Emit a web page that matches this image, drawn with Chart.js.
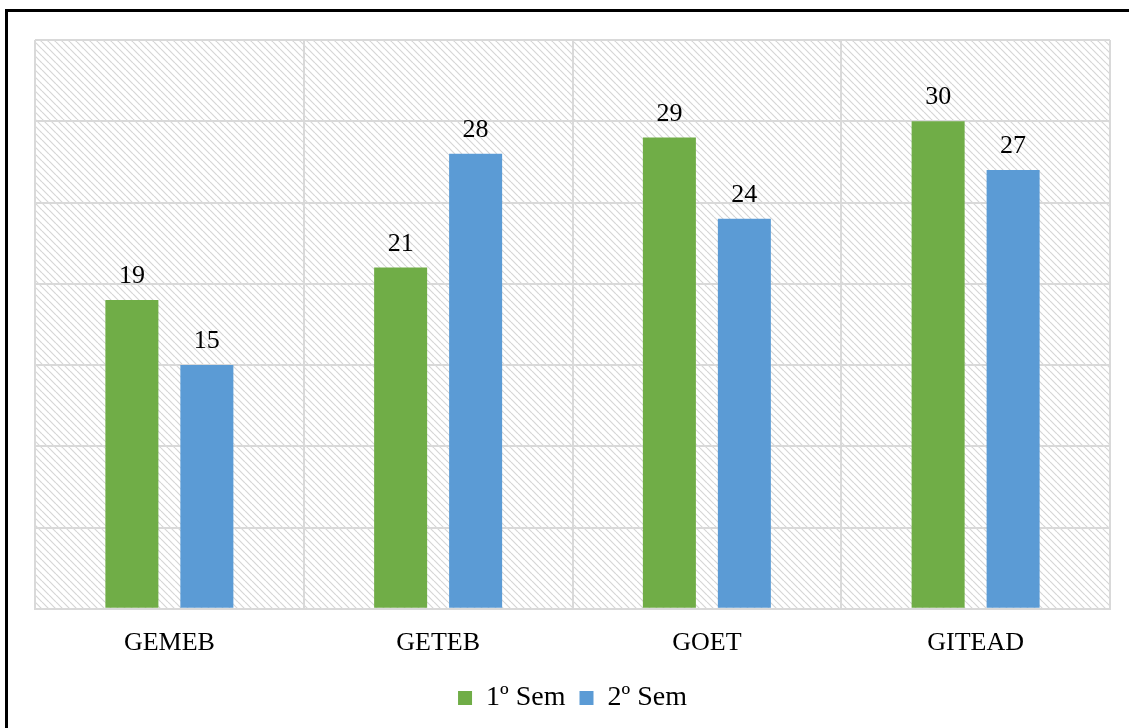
<!DOCTYPE html>
<html>
<head>
<meta charset="utf-8">
<script src="https://cdn.jsdelivr.net/npm/chart.js@4"></script>
<style>
html,body{margin:0;padding:0;background:#fff;overflow:hidden;}
#frame{position:absolute;left:5px;top:9px;width:1200px;height:800px;border-top:3px solid #000;border-left:3px solid #000;}
#wrap{position:absolute;left:0;top:0;width:1129px;height:728px;}
</style>
</head>
<body>
<div id="frame"></div>
<div id="wrap"><canvas id="c" width="1129" height="728"></canvas></div>
<script>
const categories = ["GEMEB", "GETEB", "GOET", "GITEAD"];
const sem1 = [19, 21, 29, 30];
const sem2 = [15, 28, 24, 27];
const seriesNames = ["1º Sem", "2º Sem"];
const yMax = 35;
const yStep = 5;

const FONT = '"Liberation Serif", "Times New Roman", serif';

function makePattern(){
  const p = document.createElement('canvas');
  p.width = 7; p.height = 7;
  const g = p.getContext('2d');
  g.strokeStyle = '#d6d6d6';
  g.lineWidth = 1.2;
  for (let k = -1; k <= 1; k++) {
    g.beginPath();
    g.moveTo(k*7, 0);
    g.lineTo(k*7 + 7, 7);
    g.stroke();
  }
  return g.createPattern(p, 'repeat');
}

const hatchPlugin = {
  id: 'hatch',
  beforeDraw(chart){
    const {ctx, chartArea:a} = chart;
    ctx.save();
    ctx.fillStyle = makePattern();
    ctx.fillRect(a.left, a.top, a.right - a.left, a.bottom - a.top);
    ctx.restore();
  }
};

const labelPlugin = {
  id: 'vlabels',
  afterDatasetsDraw(chart){
    const ctx = chart.ctx;
    ctx.save();
    ctx.font = '26px ' + FONT;
    ctx.fillStyle = '#000';
    ctx.textAlign = 'center';
    ctx.textBaseline = 'alphabetic';
    chart.data.datasets.forEach((ds, i) => {
      chart.getDatasetMeta(i).data.forEach((el, j) => {
        ctx.fillText(String(ds.data[j]), el.x, el.y - 17);
      });
    });
    ctx.restore();
  }
};

new Chart(document.getElementById('c'), {
  type: 'bar',
  data: {
    labels: categories,
    datasets: [
      {label: seriesNames[0], data: sem1, backgroundColor: '#70AD47', categoryPercentage: 0.558, barPercentage: 0.707},
      {label: seriesNames[1], data: sem2, backgroundColor: '#5B9BD5', categoryPercentage: 0.558, barPercentage: 0.707}
    ]
  },
  options: {
    responsive: false,
    animation: false,
    devicePixelRatio: 1,
    layout: {padding: {left: 35, right: 19, top: 40, bottom: 6}},
    plugins: {
      tooltip: {enabled: false},
      legend: {
        position: 'bottom',
        labels: {
          color: '#000',
          font: {family: FONT, size: 28},
          boxWidth: 14, boxHeight: 14, padding: 14
        }
      }
    },
    scales: {
      x: {
        grid: {color: '#d9d9d9', lineWidth: 2, drawTicks: false, offset: true},
        border: {color: '#d9d9d9', width: 2},
        ticks: {color: '#000', padding: 19, font: {family: FONT, size: 26}},
        afterFit(scale){ scale.height -= 8; }
      },
      y: {
        min: 0, max: yMax,
        ticks: {display: false, stepSize: yStep},
        grid: {color: '#d9d9d9', lineWidth: 2, drawTicks: false},
        border: {display: false}
      }
    }
  },
  plugins: [hatchPlugin, labelPlugin]
});
</script>
</body>
</html>
